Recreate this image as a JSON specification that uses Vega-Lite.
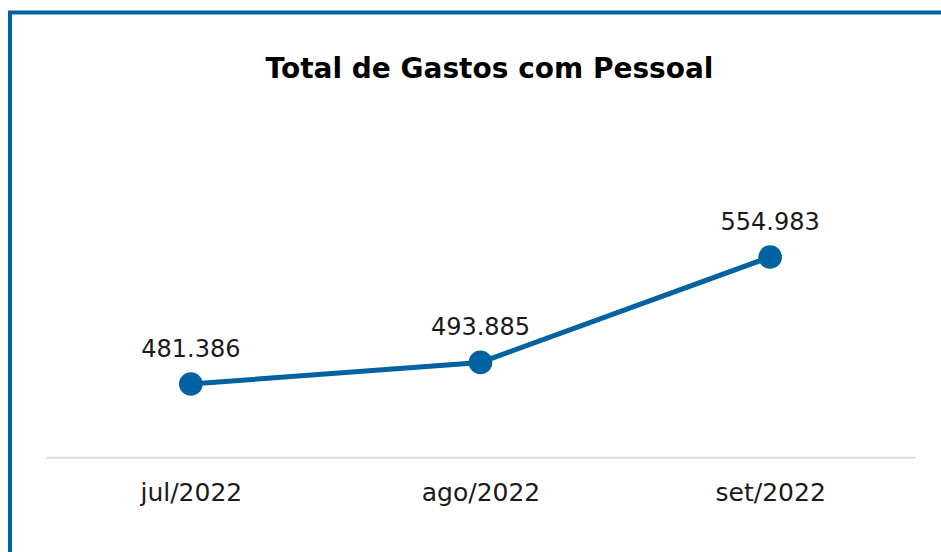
{
  "$schema": "https://vega.github.io/schema/vega-lite/v6.json",
  "autosize": "none",
  "padding": {"left": 10, "top": 12.5, "right": 0, "bottom": 0},
  "width": 931,
  "height": 539.5,
  "background": "white",
  "title": {
    "text": "Total de Gastos com Pessoal",
    "font": "DejaVu Sans",
    "fontSize": 28,
    "fontWeight": "bold",
    "color": "#000000",
    "anchor": "middle",
    "frame": "group",
    "dx": 14,
    "dy": 28,
    "offset": -65.5,
    "baseline": "alphabetic"
  },
  "config": {
    "view": {"stroke": "#0062A0", "strokeWidth": 4, "strokeDash": [931, 1470.5, 539.5, 20]},
    "locale": {"number": {"decimal": ",", "thousands": ".", "grouping": [3], "currency": ["R$", ""]}}
  },
  "data": {
    "values": [
      {"mes": "jul/2022", "total": 481386},
      {"mes": "ago/2022", "total": 493885},
      {"mes": "set/2022", "total": 554983}
    ]
  },
  "encoding": {
    "x": {
      "field": "mes",
      "type": "ordinal",
      "sort": null,
      "scale": {"type": "point", "range": [36, 905], "padding": 0.5},
      "axis": {
        "title": null,
        "orient": "bottom",
        "offset": -94.7,
        "domainColor": "#d9d9d9",
        "domainWidth": 2,
        "ticks": false,
        "tickSize": 0,
        "labelPadding": 43,
        "labelBaseline": "alphabetic",
        "labelAngle": 0,
        "labelFont": "DejaVu Sans",
        "labelFontSize": 25,
        "labelColor": "#1a1a1a",
        "grid": false
      }
    },
    "y": {
      "field": "total",
      "type": "quantitative",
      "scale": {"domain": [384030, 696670], "zero": false, "nice": false},
      "axis": null
    }
  },
  "layer": [
    {"mark": {"type": "line", "color": "#0062A0", "strokeWidth": 5}},
    {"mark": {"type": "point", "filled": true, "color": "#0062A0", "size": 560, "opacity": 1}},
    {
      "mark": {"type": "text", "dy": -27, "baseline": "alphabetic", "font": "DejaVu Sans", "fontSize": 24, "color": "#1a1a1a"},
      "encoding": {"text": {"field": "total", "type": "quantitative", "format": ",.0f"}}
    }
  ]
}
